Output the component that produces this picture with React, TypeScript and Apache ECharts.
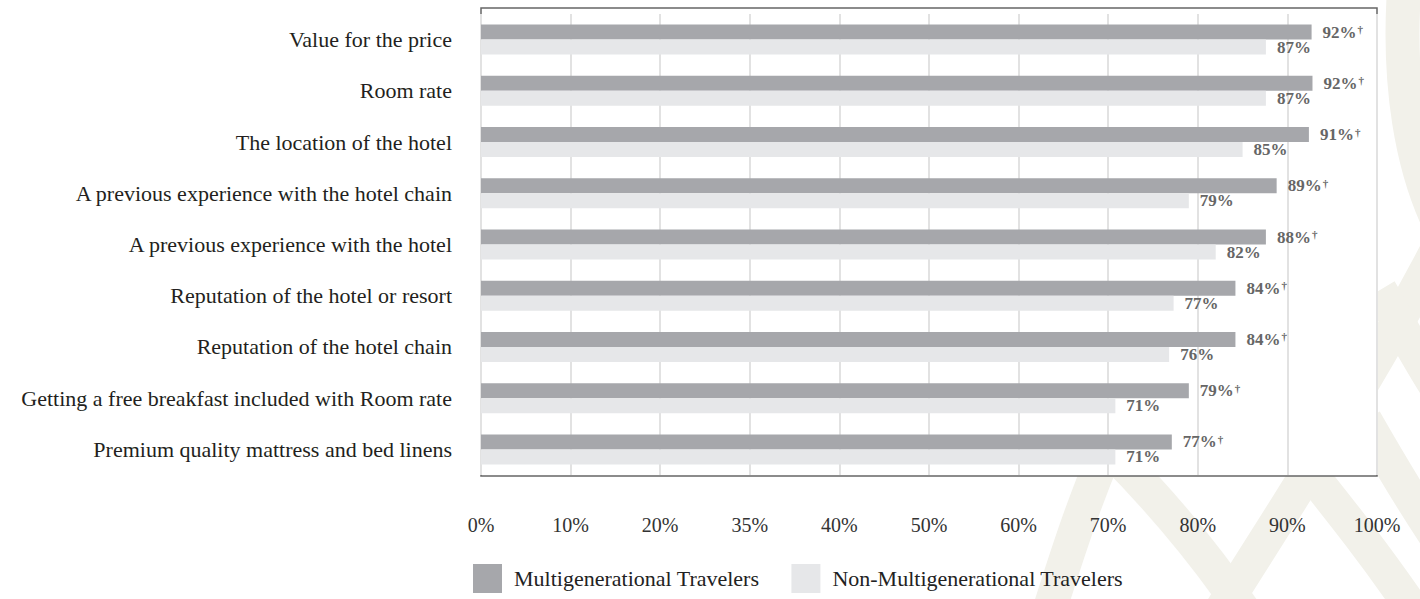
import React, { useEffect, useRef } from "react";
import * as echarts from "echarts";

const categories = [
  "Value for the price",
  "Room rate",
  "The location of the hotel",
  "A previous experience with the hotel chain",
  "A previous experience with the hotel",
  "Reputation of the hotel or resort",
  "Reputation of the hotel chain",
  "Getting a free breakfast included with Room rate",
  "Premium quality mattress and bed linens",
];

// bar lengths
const multiValues = [92.7, 92.8, 92.4, 88.8, 87.6, 84.2, 84.2, 79.0, 77.1];
const nonValues = [87.6, 87.6, 85.0, 79.0, 82.0, 77.3, 76.8, 70.8, 70.8];

// printed labels
const multiLabels = ["92%", "92%", "91%", "89%", "88%", "84%", "84%", "79%", "77%"];
const nonLabels = ["87%", "87%", "85%", "79%", "82%", "77%", "76%", "71%", "71%"];

const xTickLabels = ["0%", "10%", "20%", "35%", "40%", "50%", "60%", "70%", "80%", "90%", "100%"];

const seriesNames = ["Multigenerational Travelers", "Non-Multigenerational Travelers"];

const FONT = "'Liberation Serif', 'Times New Roman', serif";
const DARK = "#a6a7ab";
const LIGHT = "#e6e7e9";
const BAND = "#f2f1ea";
const LABEL = "#666666";

export default function App() {
  const ref = useRef<HTMLDivElement>(null);

  useEffect(() => {
    if (!ref.current) return;
    const chart = echarts.init(ref.current, null, { renderer: "svg" });

    const band = (x1: number, y1: number, cpx1: number, cpy1: number, cpx2: number, cpy2: number, x2: number, y2: number) => ({
      type: "bezierCurve",
      z: -20,
      silent: true,
      shape: { x1, y1, cpx1, cpy1, cpx2, cpy2, x2, y2 },
      style: { stroke: BAND, lineWidth: 34, fill: null },
    });

    const option: any = {
      animation: false,
      backgroundColor: "#ffffff",
      textStyle: { fontFamily: FONT },
      graphic: [
        band(1404, -10, 1398, 80, 1410, 170, 1445, 235),
        band(1215, 620, 1290, 500, 1370, 380, 1445, 235),
        band(1040, 640, 1065, 560, 1090, 480, 1125, 410),
        band(1110, 450, 1160, 500, 1210, 560, 1250, 620),
        band(1300, 460, 1340, 510, 1380, 560, 1420, 620),
        band(1365, 420, 1385, 455, 1405, 490, 1435, 535),
        band(1380, 290, 1395, 315, 1410, 345, 1435, 385),
        {
          type: "rect",
          z: -10,
          silent: true,
          shape: { x: 481, y: 8, width: 896, height: 468 },
          style: { fill: "#ffffff", stroke: "#666666", lineWidth: 1.5 },
        },
      ],
      legend: {
        left: 473,
        top: 564,
        padding: 0,
        itemWidth: 29,
        itemHeight: 29,
        itemGap: 32,
        icon: "rect",
        data: seriesNames,
        textStyle: { fontFamily: FONT, fontSize: 22, color: "#222222", padding: [0, 0, 0, 7] },
      },
      grid: { left: 481, right: 43, top: 14, bottom: 124, containLabel: false },
      xAxis: {
        type: "value",
        min: 0,
        max: 100,
        interval: 10,
        axisLine: { show: false },
        axisTick: { show: false },
        splitLine: { show: true, lineStyle: { color: "#e2e2e2", width: 2 } },
        axisLabel: {
          margin: 40,
          fontFamily: FONT,
          fontSize: 20,
          color: "#333333",
          formatter: (v: number) => xTickLabels[Math.round(v / 10)],
        },
      },
      yAxis: {
        type: "category",
        inverse: true,
        data: categories,
        axisLine: { show: false },
        axisTick: { show: false },
        axisLabel: { margin: 29, fontFamily: FONT, fontSize: 22, color: "#231f20" },
      },
      series: [
        {
          name: seriesNames[0],
          type: "bar",
          data: multiValues,
          barWidth: 15,
          barGap: "0%",
          itemStyle: { color: DARK },
          label: {
            show: true,
            position: "right",
            distance: 11,
            formatter: (p: any) => `{v|${multiLabels[p.dataIndex]}}{d|†}`,
            rich: {
              v: { fontFamily: FONT, fontSize: 17, fontWeight: "bold", color: LABEL, lineHeight: 17 },
              d: { fontFamily: FONT, fontSize: 11, fontWeight: "bold", color: LABEL, verticalAlign: "top", padding: [0, 0, 0, 1] },
            },
          },
        },
        {
          name: seriesNames[1],
          type: "bar",
          data: nonValues,
          barWidth: 15,
          barGap: "0%",
          itemStyle: { color: LIGHT },
          label: {
            show: true,
            position: "right",
            distance: 11,
            formatter: (p: any) => nonLabels[p.dataIndex],
            fontFamily: FONT,
            fontSize: 17,
            fontWeight: "bold",
            color: LABEL,
          },
        },
      ],
    };

    chart.setOption(option);
    return () => chart.dispose();
  }, []);

  return (
    <div
      ref={ref}
      style={{ position: "fixed", left: 0, top: 0, width: 1420, height: 599 }}
    />
  );
}
